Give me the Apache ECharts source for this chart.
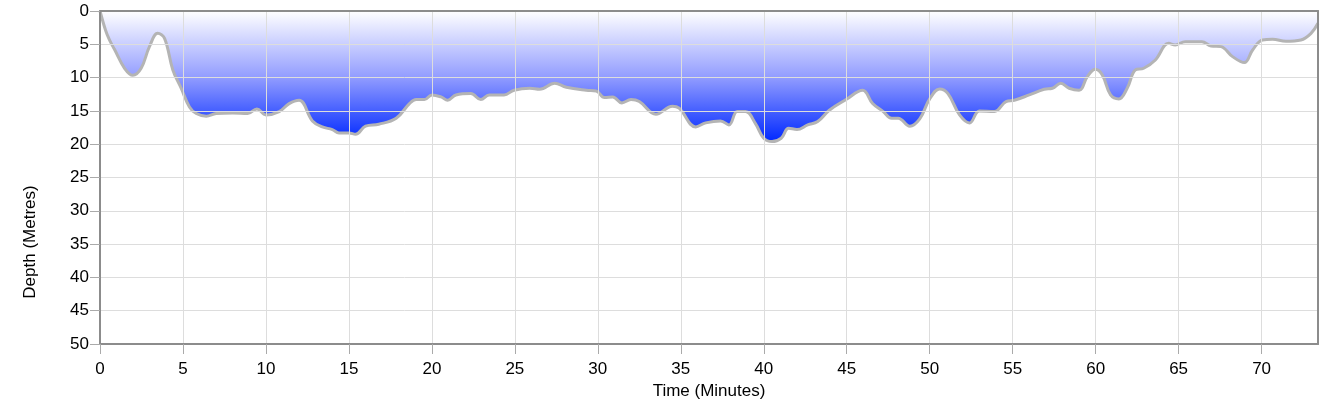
<!DOCTYPE html>
<html>
<head>
<meta charset="utf-8">
<script src="https://cdn.jsdelivr.net/npm/echarts@6/dist/echarts.min.js"></script>
<style>
html,body{margin:0;padding:0;background:#fff;}
#chart{width:1328px;height:406px;}
</style>
</head>
<body>
<div id="chart"></div>
<script>
// Time (minutes)
var times = [0,0.33,0.57,0.87,1.48,1.98,2.48,2.98,3.48,3.89,4.39,4.89,5.39,5.8,6.4,7.0,8.0,8.9,9.45,10.0,10.8,11.4,12.0,12.8,13.4,14.0,14.4,15.0,15.4,16.0,16.8,17.85,18.65,19.05,19.55,20.0,20.55,20.95,21.45,22.35,22.95,23.45,24.35,24.95,25.9,26.5,27.4,28.1,29.3,29.9,30.4,30.9,31.45,32.0,32.5,33.5,34.5,34.9,35.9,36.5,37.4,37.9,38.4,38.9,39.5,40.0,40.5,41.05,41.5,42.0,42.65,43.25,43.95,44.96,45.96,46.56,47.2,47.7,48.1,48.8,49.4,50.0,50.6,51.1,51.8,52.4,53.0,53.9,54.6,55.1,56.0,56.9,57.4,57.9,58.4,59.0,59.5,59.98,60.4,60.9,61.4,61.9,62.4,62.9,63.6,64.4,64.8,65.4,66.4,66.95,67.55,68.25,68.96,69.46,70.06,70.66,71.47,72.37,72.98,73.4];
// Depth (metres)
var depths = [0,2.85,4.35,5.75,8.6,9.65,8.6,5.35,3.35,4.1,8.85,11.6,14.4,15.4,15.8,15.4,15.3,15.4,14.7,15.6,15.1,13.9,13.4,16.5,17.4,17.8,18.3,18.3,18.5,17.3,17.0,16.1,13.9,13.3,13.3,12.6,12.9,13.4,12.6,12.4,13.3,12.6,12.6,11.9,11.6,11.75,10.85,11.45,11.9,12.0,13.0,12.9,13.8,13.3,13.6,15.5,14.3,14.6,17.4,16.8,16.5,17.1,15.1,15.1,16.9,19.1,19.6,19.1,17.6,17.8,17.1,16.6,14.9,13.3,11.9,13.9,15.1,16.1,16.1,17.3,16.2,13.2,11.7,12.4,15.6,16.8,15.0,15.1,13.6,13.4,12.6,11.75,11.6,10.85,11.6,11.9,9.85,8.75,9.6,12.6,13.2,11.6,8.85,8.6,7.35,4.85,5.1,4.6,4.6,5.25,5.35,6.85,7.75,5.85,4.35,4.25,4.55,4.35,3.35,1.85];
var xTitle = 'Time (Minutes)';
var yTitle = 'Depth (Metres)';

var data = times.map(function(t, i){ return [t, depths[i]]; });
var chart = echarts.init(document.getElementById('chart'));
var font = '"Liberation Sans", Arial, Helvetica, sans-serif';
var borderColor = '#8c8c8c';
chart.setOption({
  animation: false,
  grid: {left: 100, top: 11, right: 10, bottom: 62, containLabel: false},
  xAxis: [{
    type: 'value', min: 0, max: 73.4, interval: 5, position: 'bottom', z: 10,
    name: xTitle, nameLocation: 'middle', nameGap: 35,
    nameTextStyle: {color: '#000', fontSize: 17, fontFamily: font},
    axisLine: {show: true, onZero: false, lineStyle: {color: borderColor, width: 2}},
    axisTick: {show: true, length: 10, lineStyle: {color: '#aaaaaa', width: 1}},
    axisLabel: {color: '#000', fontSize: 17, fontFamily: font, margin: 17, showMaxLabel: false},
    splitLine: {show: true, lineStyle: {color: '#dddddd', width: 1}}
  }, {
    type: 'value', min: 0, max: 73.4, position: 'top', z: 10,
    axisLine: {show: true, onZero: false, lineStyle: {color: borderColor, width: 2}},
    axisTick: {show: false}, axisLabel: {show: false}, splitLine: {show: false}
  }],
  yAxis: [{
    type: 'value', min: 0, max: 50, interval: 5, inverse: true, position: 'left', z: 10,
    axisLine: {show: true, onZero: false, lineStyle: {color: borderColor, width: 2}},
    axisTick: {show: true, length: 10, lineStyle: {color: '#aaaaaa', width: 1}},
    axisLabel: {color: '#000', fontSize: 17, fontFamily: font, margin: 11},
    splitLine: {show: true, lineStyle: {color: '#dddddd', width: 1}}
  }, {
    type: 'value', min: 0, max: 50, inverse: true, position: 'right', z: 10,
    axisLine: {show: true, onZero: false, lineStyle: {color: borderColor, width: 2}},
    axisTick: {show: false}, axisLabel: {show: false}, splitLine: {show: false}
  }],
  graphic: [{
    type: 'text', x: 30, y: 242, rotation: Math.PI / 2,
    style: {text: yTitle, fill: '#000', font: '17px ' + font, textAlign: 'center', textVerticalAlign: 'middle'}
  }],
  series: [{
    type: 'line', data: data, xAxisIndex: 0, yAxisIndex: 0,
    smooth: 0.4, showSymbol: false, symbol: 'none',
    lineStyle: {color: '#b4b4b4', width: 3},
    areaStyle: {
      origin: 'start',
      opacity: 1,
      color: new echarts.graphic.LinearGradient(0, 0, 0, 1, [
        {offset: 0, color: '#ffffff'},
        {offset: 0.5, color: '#949eff'},
        {offset: 1, color: '#0028ff'}
      ])
    },
    z: 2
  }]
});
</script>
</body>
</html>
